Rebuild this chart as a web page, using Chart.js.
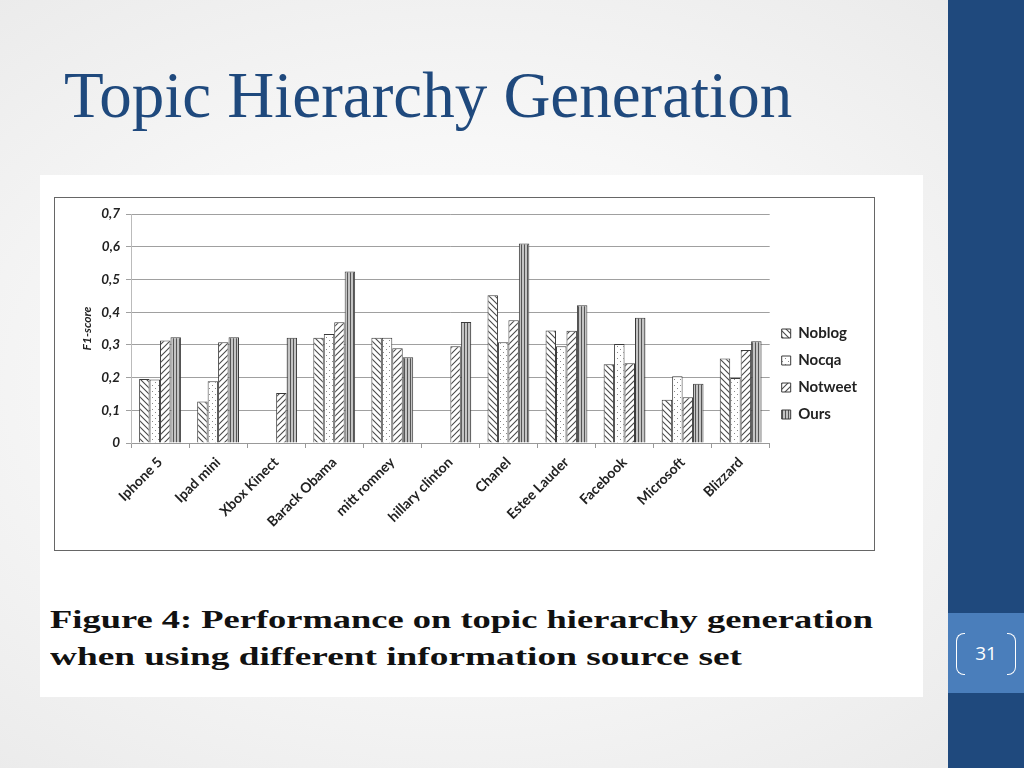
<!DOCTYPE html>
<html>
<head>
<meta charset="utf-8">
<script src="https://cdn.jsdelivr.net/npm/chart.js@4.4.0/dist/chart.umd.min.js"></script>
<style>
  html, body { margin: 0; padding: 0; }
  body {
    width: 1024px; height: 768px; overflow: hidden; position: relative;
    background: radial-gradient(ellipse at 45% 50%, #ffffff 0%, #f7f7f7 45%, #e9e9e9 100%);
  }
  #titulo {
    position: absolute; left: 64px; top: 58px;
    font-family: "Liberation Serif", serif; font-size: 65px; color: #1f497d;
    line-height: 75px; white-space: nowrap;
  }
  #lateral { position: absolute; left: 948px; top: 0; width: 76px; height: 768px; background: #1f497d; }
  #numPagina {
    position: absolute; left: 948px; top: 613px; width: 76px; height: 80px; background: #4a7ebb;
    color: #fff; font-family: "Open Sans", sans-serif; font-size: 19px; text-align: center; line-height: 80px;
  }
  #numPagina .br { position: absolute; top: 20px; width: 8px; height: 40px; border: 1.5px solid #fff; }
  #numPagina .izq { left: 8px; border-right: none; border-radius: 8px 0 0 8px; }
  #numPagina .der { right: 8px; border-left: none; border-radius: 0 8px 8px 0; }
  #figura { position: absolute; left: 40px; top: 175px; width: 883px; height: 522px; background: #fff; }
  #marco { position: absolute; left: 14px; top: 22px; width: 819px; height: 352px; border: 1.5px solid #666; }
  #leyendaFig {
    position: absolute; left: 10px; top: 426px; font-family: "Liberation Serif", serif; font-weight: bold;
    font-size: 26px; color: #111; line-height: 37px; white-space: nowrap; transform-origin: 0 0;
  }
</style>
</head>
<body>
<div id="titulo">Topic Hierarchy Generation</div>
<div id="lateral"></div>
<div id="numPagina"><span class="br izq"></span>31<span class="br der"></span></div>
<div id="figura">
  <div id="marco"><canvas id="graficaF1" width="819" height="352"></canvas></div>
  <div id="leyendaFig"><span id="l1">Figure 4: Performance on topic hierarchy generation</span><br><span id="l2">when using different information source set</span></div>
</div>
<script>
const temas = ['Iphone 5', 'Ipad mini', 'Xbox Kinect', 'Barack Obama', 'mitt romney', 'hillary clinton',
               'Chanel', 'Estee Lauder', 'Facebook', 'Microsoft', 'Blizzard'];
const noblog  = [0.196, 0.127, 0,     0.322, 0.322, 0,     0.452, 0.344, 0.241, 0.132, 0.258];
const nocqa   = [0.194, 0.189, 0,     0.333, 0.322, 0,     0.308, 0.296, 0.303, 0.204, 0.199];
const notweet = [0.313, 0.308, 0.153, 0.369, 0.290, 0.296, 0.375, 0.343, 0.244, 0.140, 0.284];
const ours    = [0.323, 0.323, 0.322, 0.524, 0.262, 0.370, 0.610, 0.421, 0.383, 0.181, 0.311];
const ticksY  = ['0', '0,1', '0,2', '0,3', '0,4', '0,5', '0,6', '0,7'];

// tramas para imitar el relleno de la figura original
const crearTrama = (tipo) => {
    const c = document.createElement('canvas');
    const t = tipo === 'ours' ? 3 : 6;
    c.width = t; c.height = t;
    const g = c.getContext('2d');
    g.fillStyle = tipo === 'ours' ? '#c4c4c4' : '#ffffff';
    g.fillRect(0, 0, t, t);
    g.strokeStyle = '#4a4a4a';
    g.lineWidth = 1.1;
    if (tipo === 'noblog') {
        g.beginPath();
        g.moveTo(-1, -1); g.lineTo(t + 1, t + 1);
        g.moveTo(-1, t - 1); g.lineTo(1, t + 1);
        g.moveTo(t - 1, -1); g.lineTo(t + 1, 1);
        g.stroke();
    } else if (tipo === 'notweet') {
        g.beginPath();
        g.moveTo(-1, t + 1); g.lineTo(t + 1, -1);
        g.moveTo(-1, 1); g.lineTo(1, -1);
        g.moveTo(t - 1, t + 1); g.lineTo(t + 1, t - 1);
        g.stroke();
    } else if (tipo === 'nocqa') {
        g.fillStyle = '#8a8a8a';
        g.fillRect(1, 1, 1, 1);
        g.fillRect(4, 4, 1, 1);
    } else {
        g.fillStyle = '#555';
        g.fillRect(1, 0, 1, t);
    }
    return g.createPattern(c, 'repeat');
};

const serie = (nombre, datos, tipo) => ({
    label: nombre,
    data: datos,
    backgroundColor: crearTrama(tipo),
    borderColor: '#3a3a3a',
    borderWidth: 1,
    categoryPercentage: 0.72,
    barPercentage: 1.0
});

const ctx = document.getElementById('graficaF1').getContext('2d');
new Chart(ctx, {
    type: 'bar',
    data: {
        labels: temas,
        datasets: [
            serie('Noblog', noblog, 'noblog'),
            serie('Nocqa', nocqa, 'nocqa'),
            serie('Notweet', notweet, 'notweet'),
            serie('Ours', ours, 'ours')
        ]
    },
    options: {
        responsive: false,
        animation: false,
        devicePixelRatio: 1,
        layout: { padding: { top: 16, left: 0, right: 7, bottom: 16 } },
        plugins: {
            tooltip: { enabled: false },
            legend: {
                position: 'right',
                labels: {
                    boxWidth: 9,
                    boxHeight: 9,
                    padding: 12,
                    color: '#222',
                    font: { family: 'Lato', weight: 'bold', size: 15 }
                }
            }
        },
        scales: {
            x: {
                grid: { offset: true, drawOnChartArea: false, drawTicks: true, tickLength: 5, color: '#999' },
                border: { color: '#999' },
                ticks: {
                    minRotation: 45, maxRotation: 45, autoSkip: false, color: '#222', padding: 6,
                    font: { family: 'Lato', weight: 'bold', size: 14 }
                },
                afterFit: (escala) => { escala.height = 91; }
            },
            y: {
                min: 0, max: 0.7,
                ticks: {
                    stepSize: 0.1, color: '#222', padding: 6,
                    font: { family: 'Lato', weight: 'bold', style: 'italic', size: 13.5 },
                    callback: (v, i) => ticksY[i]
                },
                grid: { color: '#a0a0a0', tickLength: 5 },
                border: { color: '#bbb' },
                title: {
                    display: true, text: 'F1-score', color: '#222', padding: { top: 25, bottom: 0 },
                    font: { family: 'Lato', weight: 'bold', style: 'italic', size: 12 }
                },
                afterFit: (escala) => { escala.width = 76; }
            }
        }
    }
});

// ajustar el ancho del pie de figura al del original
const ajustar = (id, ancho) => {
    const el = document.getElementById(id);
    const w = el.getBoundingClientRect().width;
    el.style.display = 'inline-block';
    el.style.transform = `scaleX(${ancho / w})`;
    el.style.transformOrigin = '0 0';
};
ajustar('l1', 823);
ajustar('l2', 692);
</script>
</body>
</html>
